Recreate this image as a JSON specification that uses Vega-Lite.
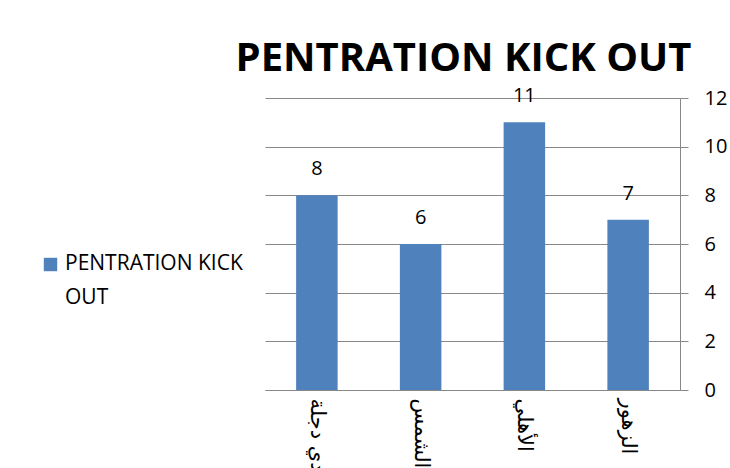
{
  "$schema": "https://vega.github.io/schema/vega-lite/v6.json",
  "width": 415,
  "height": 292,
  "autosize": {"type": "none"},
  "padding": {"left": 265, "top": 98, "right": 50, "bottom": 78},
  "background": "white",
  "title": {
    "text": "PENTRATION KICK OUT",
    "font": "Open Sans",
    "fontSize": 40,
    "fontWeight": "bold",
    "color": "#000000",
    "anchor": "middle",
    "offset": 7,
    "dx": -9
  },
  "data": {
    "values": [
      {"team": "وادي دجلة", "value": 8, "series": "PENTRATION KICK OUT"},
      {"team": "الشمس", "value": 6, "series": "PENTRATION KICK OUT"},
      {"team": "الأهلي", "value": 11, "series": "PENTRATION KICK OUT"},
      {"team": "الزهور", "value": 7, "series": "PENTRATION KICK OUT"}
    ]
  },
  "encoding": {
    "x": {
      "field": "team",
      "type": "nominal",
      "sort": null,
      "scale": {"paddingInner": 0.6, "paddingOuter": 0.3},
      "axis": {
        "title": null,
        "labelAngle": 90,
        "labelFont": "DejaVu Sans",
        "labelFontSize": 21,
        "labelColor": "#000000",
        "labelPadding": 8,
        "ticks": false,
        "domainColor": "#888888",
        "labelAlign": "left",
        "labelBaseline": "middle"
      }
    },
    "y": {
      "field": "value",
      "type": "quantitative",
      "scale": {"domain": [0, 12]},
      "axis": {
        "orient": "right",
        "title": null,
        "values": [0, 2, 4, 6, 8, 10, 12],
        "labelFont": "Open Sans",
        "labelFontSize": 20,
        "labelColor": "#000000",
        "gridColor": "#888888",
        "domainColor": "#888888",
        "tickColor": "#888888",
        "tickSize": 8,
        "labelPadding": 16
      }
    }
  },
  "layer": [
    {
      "mark": {"type": "bar", "color": "#4F81BD"},
      "encoding": {
        "color": {
          "field": "series",
          "type": "nominal",
          "scale": {"range": ["#4F81BD"]},
          "legend": {
            "title": null,
            "orient": "none",
            "legendX": -225,
            "legendY": 156,
            "symbolType": "square",
            "symbolSize": 180,
            "labelFont": "Open Sans",
            "labelFontSize": 21,
            "labelColor": "#000000",
            "labelLimit": 300,
            "labelExpr": "['PENTRATION KICK', 'OUT']",
            "labelBaseline": "top",
            "labelOffset": 4,
            "encode": {"labels": {"update": {"lineHeight": {"value": 34}, "dy": {"value": -12}}}}
          }
        }
      }
    },
    {
      "mark": {"type": "text", "dy": -26, "font": "Open Sans", "fontSize": 20, "color": "#000000"},
      "encoding": {"text": {"field": "value", "type": "quantitative"}}
    }
  ],
  "config": {"view": {"stroke": null}}
}
